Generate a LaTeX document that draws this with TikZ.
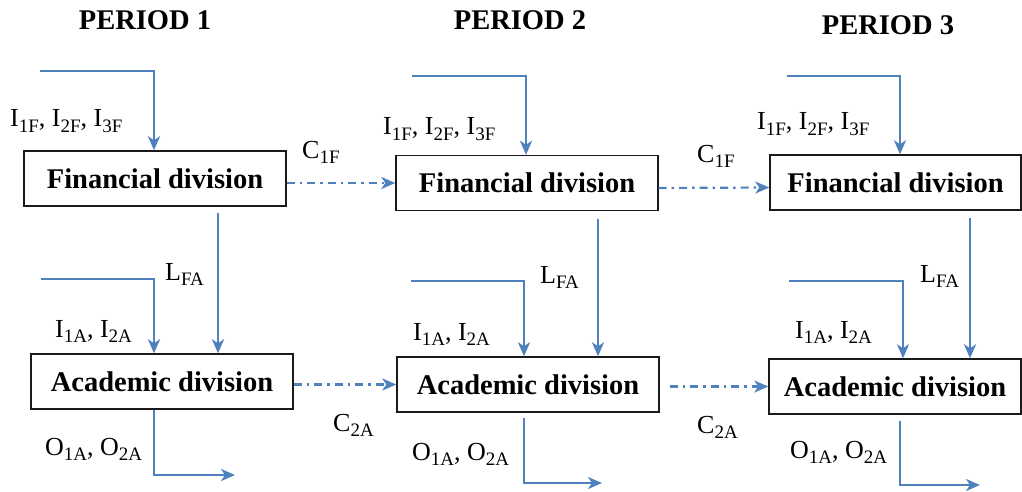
\documentclass[tikz,border=0pt]{standalone}
\usepackage{fontspec}
\setmainfont{Liberation Serif}
\usetikzlibrary{arrows.meta,positioning}
\definecolor{flowBlue}{HTML}{4F81BD}
\definecolor{boxInk}{HTML}{1A1A1A}
\newcommand{\sbs}[1]{\raisebox{-0.22em}{\fontsize{19}{19}\selectfont #1}}

\begin{document}
\begin{tikzpicture}[x=1pt,y=-1pt,>=Stealth,line join=miter]
\path[fill=white] (0,0) rectangle (1022,492);
\useasboundingbox (0,0) rectangle (1022,492);
\tikzset{flow/.style={draw=flowBlue,line width=2.2pt,-{Stealth[length=14pt,width=12pt,inset=4pt]}},
 cflow/.style={flow,dash pattern=on 8pt off 5pt on 2.5pt off 5pt},
 division/.style={draw=boxInk,line width=1.4pt,fill=white,minimum height=55pt,inner sep=2pt,font=\fontsize{28.5}{32}\selectfont\bfseries},
 period/.style={font=\fontsize{28.5}{32}\selectfont\bfseries},
 lbl/.style={anchor=base west,inner sep=0pt,font=\fontsize{26}{30}\selectfont}}
% period titles
\node[period] (per1) at (145,20) {PERIOD 1};
\node[period] (per2) at (520,20) {PERIOD 2};
\node[period] (per3) at (888,25) {PERIOD 3};
% divisions
\node[division,minimum width=262pt] (fin1) at (155,178.5) {Financial division};
\node[division,minimum width=262pt] (aca1) at (162,381.5) {Academic division};
\node[division,minimum width=262pt] (fin2) at (527,183) {Financial division};
\node[division,minimum width=262pt] (aca2) at (528,384.5) {Academic division};
\node[division,minimum width=251pt] (fin3) at (895.5,182.5) {Financial division};
\node[division,minimum width=252pt] (aca3) at (895,386.5) {Academic division};
% period 1
\coordinate (fin1in) at (40,71); \coordinate (fin1k) at (154,71);
\draw[flow] (fin1in) -- (fin1k) -- (fin1k |- fin1.north);
\coordinate (lfa1) at (218,0);
\draw[flow,shorten <=6pt] (fin1.south -| lfa1) -- (aca1.north -| lfa1);
\coordinate (aca1in) at (41,279); \coordinate (aca1k) at (154,279);
\draw[flow] (aca1in) -- (aca1k) -- (aca1k |- aca1.north);
\coordinate (out1k) at (154,475); \coordinate (out1) at (235,475);
\draw[flow] (out1k |- aca1.south) -- (out1k) -- (out1);
\node[lbl] (iF1) at (10,127) {I\sbs{1F}, I\sbs{2F}, I\sbs{3F}};
\node[lbl] (lFA1) at (165,280) {L\sbs{FA}};
\node[lbl] (iA1) at (55,337) {I\sbs{1A}, I\sbs{2A}};
\node[lbl] (oA1) at (45,455) {O\sbs{1A}, O\sbs{2A}};
% period 2
\coordinate (fin2in) at (412,76); \coordinate (fin2k) at (526,76);
\draw[flow] (fin2in) -- (fin2k) -- (fin2k |- fin2.north);
\coordinate (lfa2) at (598,0);
\draw[flow,shorten <=8pt] (fin2.south -| lfa2) -- (aca2.north -| lfa2);
\coordinate (aca2in) at (411,281); \coordinate (aca2k) at (524,281);
\draw[flow] (aca2in) -- (aca2k) -- (aca2k |- aca2.north);
\coordinate (out2k) at (524,483); \coordinate (out2) at (602,483);
\draw[flow,shorten <=5pt] (out2k |- aca2.south) -- (out2k) -- (out2);
\node[lbl] (iF2) at (383,135) {I\sbs{1F}, I\sbs{2F}, I\sbs{3F}};
\node[lbl] (lFA2) at (540,283) {L\sbs{FA}};
\node[lbl] (iA2) at (413,340) {I\sbs{1A}, I\sbs{2A}};
\node[lbl] (oA2) at (412,460) {O\sbs{1A}, O\sbs{2A}};
% period 3
\coordinate (fin3in) at (787,76); \coordinate (fin3k) at (900,76);
\draw[flow] (fin3in) -- (fin3k) -- (fin3k |- fin3.north);
\coordinate (lfa3) at (970,0);
\draw[flow,shorten <=7pt] (fin3.south -| lfa3) -- (aca3.north -| lfa3);
\coordinate (aca3in) at (789,281); \coordinate (aca3k) at (903,281);
\draw[flow] (aca3in) -- (aca3k) -- (aca3k |- aca3.north);
\coordinate (out3k) at (900,485); \coordinate (out3) at (980,485);
\draw[flow,shorten <=6pt] (out3k |- aca3.south) -- (out3k) -- (out3);
\node[lbl] (iF3) at (757,130) {I\sbs{1F}, I\sbs{2F}, I\sbs{3F}};
\node[lbl] (lFA3) at (920,282) {L\sbs{FA}};
\node[lbl] (iA3) at (795,338) {I\sbs{1A}, I\sbs{2A}};
\node[lbl] (oA3) at (790,458) {O\sbs{1A}, O\sbs{2A}};
% carry-over between periods
\draw[cflow] (fin1.east |- fin2.west) -- (fin2.west);
\draw[cflow] ([yshift=-5pt]fin2.east) -- ([yshift=-5pt]fin3.west);
\draw[cflow] (aca1.east |- aca2.west) -- (aca2.west);
\draw[cflow,shorten <=10pt] (aca2.east |- aca3.west) -- (aca3.west);
\node[lbl] (cF1) at (302,158) {C\sbs{1F}};
\node[lbl] (cA1) at (333,431) {C\sbs{2A}};
\node[lbl] (cF2) at (697,162) {C\sbs{1F}};
\node[lbl] (cA2) at (697,433) {C\sbs{2A}};
\end{tikzpicture}
\end{document}
